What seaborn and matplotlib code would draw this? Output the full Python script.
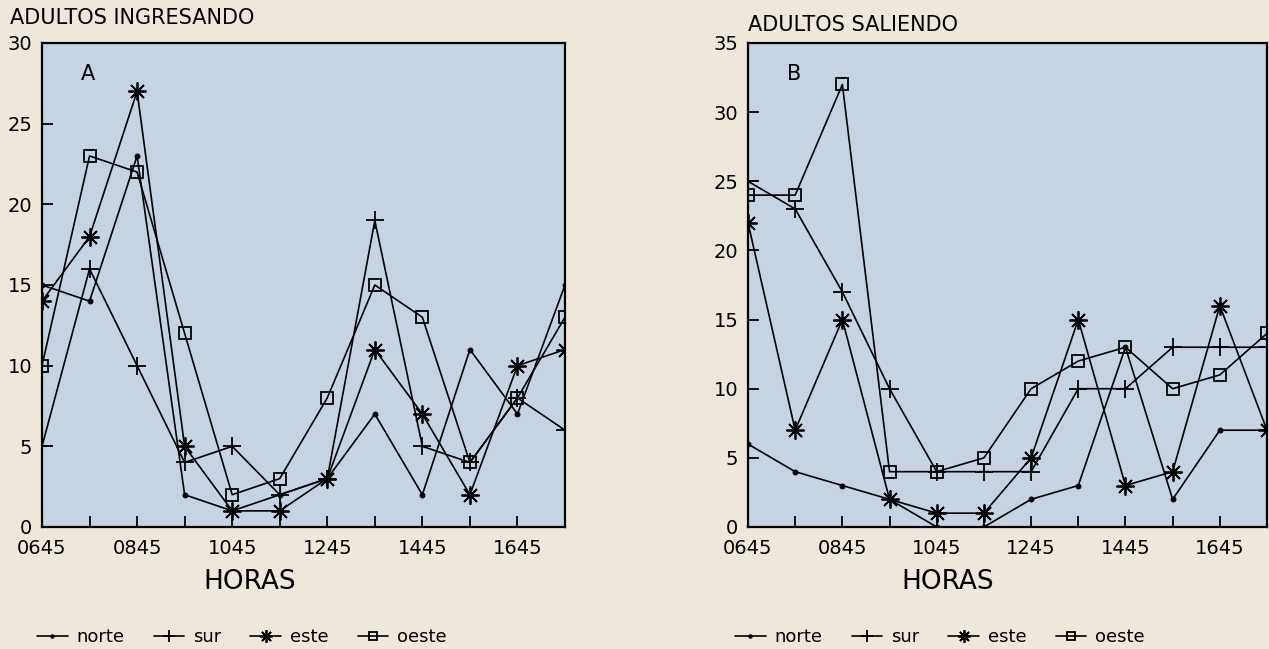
import numpy as np
import pandas as pd
import seaborn as sns
import matplotlib.pyplot as plt

# -----------------------------
# Data
# -----------------------------
horas = ['0645', '0745', '0845', '0945', '1045', '1145',
         '1245', '1345', '1445', '1545', '1645', '1745']
tick_labels = ['0645', '', '0845', '', '1045', '', '1245', '', '1445', '', '1645', '']

# A: adultos ingresando
ing_norte = [15, 14, 23, 2, 1, 2, 3, 7, 2, 11, 7, 15]
ing_sur = [5, 16, 10, 4, 5, 2, 3, 19, 5, 4, 8, 6]
ing_este = [14, 18, 27, 5, 1, 1, 3, 11, 7, 2, 10, 11]
ing_oeste = [10, 23, 22, 12, 2, 3, 8, 15, 13, 4, 8, 13]

# B: adultos saliendo
sal_norte = [6, 4, 3, 2, 0, 0, 2, 3, 13, 2, 7, 7]
sal_sur = [25, 23, 17, 10, 4, 4, 4, 10, 10, 13, 13, 13]
sal_este = [22, 7, 15, 2, 1, 1, 5, 15, 3, 4, 16, 7]
sal_oeste = [24, 24, 32, 4, 4, 5, 10, 12, 13, 10, 11, 14]

direcciones = ['norte', 'sur', 'este', 'oeste']

# -----------------------------
# Style
# -----------------------------
sns.set_style('ticks')
plt.rcParams['font.family'] = ['DejaVu Sans']
plt.rcParams['text.color'] = 'black'
plt.rcParams['xtick.color'] = 'black'
plt.rcParams['ytick.color'] = 'black'
page_color = '#eee7db'
face_color = '#c6d3e3'

estilos = {
    'norte': dict(marker='o', markersize=3.5, markerfacecolor='black'),
    'sur': dict(marker='+', markersize=13, markeredgewidth=1.3),
    'este': dict(marker=(8, 2, 0), markersize=13, markeredgewidth=1.3),
    'oeste': dict(marker='s', markersize=9, markerfacecolor='none', markeredgewidth=1.3),
}

fig = plt.figure(figsize=(12.69, 6.49), dpi=100, facecolor=page_color)
ax_a = fig.add_axes([42 / 1269, 122 / 649, 523 / 1269, 484 / 649])
ax_b = fig.add_axes([748 / 1269, 122 / 649, 519 / 1269, 484 / 649])


def dibujar(ax, series, ymax, letra):
    x = np.arange(len(horas))
    for nombre, valores in zip(direcciones, series):
        df = pd.DataFrame({'pos': x, 'valor': valores})
        sns.lineplot(data=df, x='pos', y='valor', ax=ax, color='black',
                     linewidth=1.2, label=nombre, markeredgecolor='black',
                     **estilos[nombre])
    ax.set_facecolor(face_color)
    ax.set_xlim(0, len(horas) - 1)
    ax.set_ylim(0, ymax)
    ax.set_xticks(x)
    ax.set_xticklabels(tick_labels, fontsize=14)
    ax.set_yticks(np.arange(0, ymax + 1, 5))
    ax.tick_params(axis='y', labelsize=14, direction='in', length=8, width=1.3, pad=7)
    ax.tick_params(axis='x', direction='in', length=8, width=1.3, pad=9)
    for s in ax.spines.values():
        s.set_linewidth(1.6)
        s.set_color('black')
    ax.set_xlabel('')
    ax.set_ylabel('')
    ax.text(0.075, 0.935, letra, transform=ax.transAxes, fontsize=15,
            ha='left', va='center')
    ax.get_legend().remove()


dibujar(ax_a, [ing_norte, ing_sur, ing_este, ing_oeste], 30, 'A')
dibujar(ax_b, [sal_norte, sal_sur, sal_este, sal_oeste], 35, 'B')

# Titles and axis labels
fig.text(10 / 1269, 1 - 18 / 649, 'ADULTOS INGRESANDO', fontsize=15, ha='left', va='center')
fig.text(748 / 1269, 1 - 25 / 649, 'ADULTOS SALIENDO', fontsize=15, ha='left', va='center')
fig.text(250 / 1269, 1 - 582 / 649, 'HORAS', fontsize=19, ha='center', va='center')
fig.text(948 / 1269, 1 - 582 / 649, 'HORAS', fontsize=19, ha='center', va='center')

# Legends below each panel
for ax, cx in [(ax_a, 242), (ax_b, 940)]:
    handles, labels = ax.get_legend_handles_labels()
    ax.legend(handles, labels, loc='center', ncol=4, frameon=False,
              bbox_to_anchor=(cx / 1269, 1 - 637 / 649), bbox_transform=fig.transFigure,
              fontsize=13, handlelength=1.7, columnspacing=1.6, handletextpad=0.5,
              markerscale=0.7)

fig.savefig('out.png', dpi=100, facecolor=page_color)
